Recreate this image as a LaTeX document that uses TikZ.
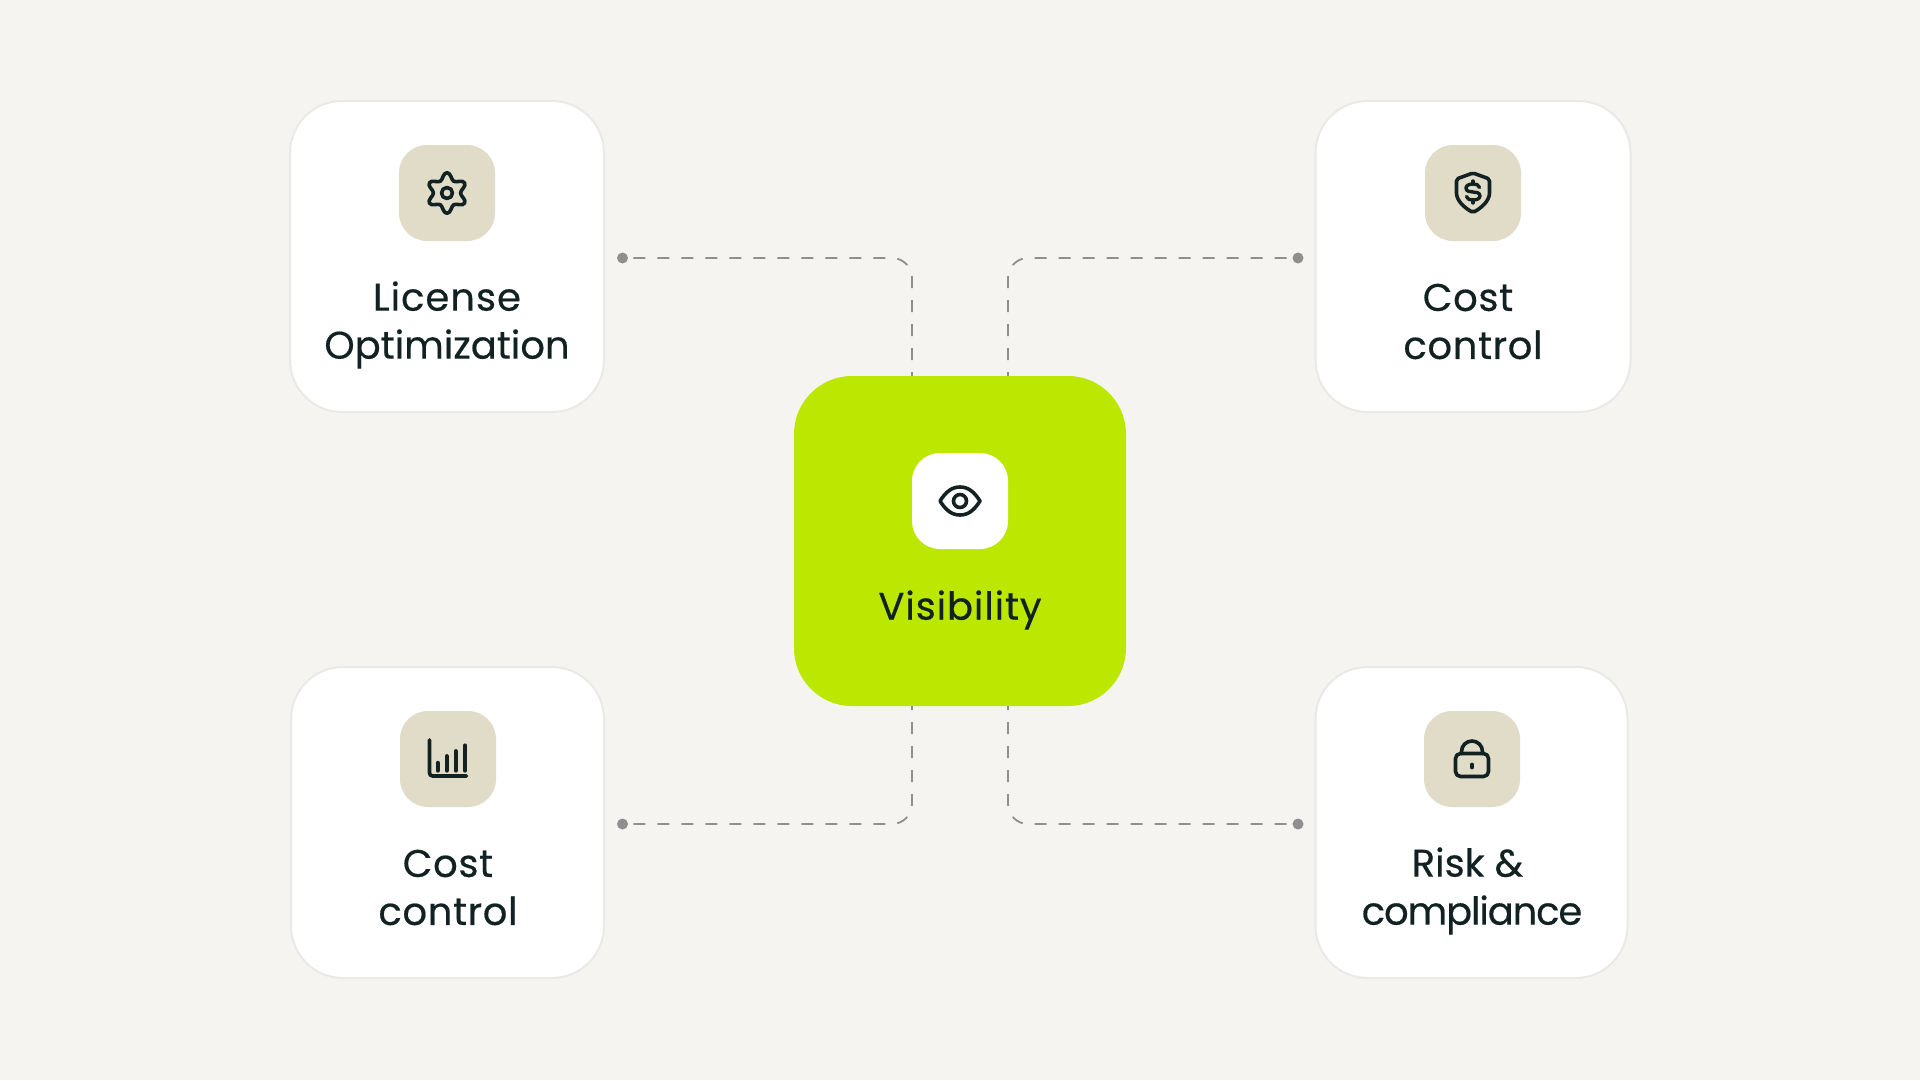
\documentclass[tikz,border=0pt]{standalone}
\usepackage{fontspec}
\setmainfont[FakeBold=0.4]{Poppins}
\definecolor{bgc}{HTML}{F5F4F0}
\definecolor{edgec}{HTML}{E9E9E6}
\definecolor{chipc}{HTML}{E0DCC8}
\definecolor{limec}{HTML}{BBE700}
\definecolor{inkc}{HTML}{122222}
\definecolor{linkc}{HTML}{8F8F8F}
\newcommand{\spaced}[2]{{\addfontfeature{LetterSpace=#1}#2}}
\tikzset{
  card/.style={draw=edgec,line width=2pt,fill=white,rounded corners=52pt,minimum width=314pt,minimum height=311pt,inner sep=0pt,outer sep=0pt},
  hub/.style={fill=limec,rounded corners=58pt,minimum width=332pt,minimum height=330pt,inner sep=0pt,outer sep=0pt},
  chip/.style={fill=chipc,rounded corners=28pt,minimum width=96pt,minimum height=96pt,inner sep=0pt,outer sep=0pt},
  hubchip/.style={chip,fill=white},
  lab/.style={text=inkc,font=\fontsize{38.5}{48}\selectfont,align=center,inner sep=0pt,outer sep=0pt},
  terminal/.style={circle,fill=linkc,minimum size=11pt,inner sep=0pt,outer sep=0pt},
  link/.style={draw=linkc,line width=1.8pt,rounded corners=20pt,dash pattern=on 12pt off 12pt,dash phase=8pt},
  ico/.style={draw=inkc,line width=3.6pt,line cap=round,line join=round},
  bar/.style={draw=inkc,line width=3.8pt,line cap=round}
}
\begin{document}
\begin{tikzpicture}[x=1pt,y=-1pt]
\useasboundingbox (0,0) rectangle (1920,1080);
\fill[bgc] (0,0) rectangle (1920,1080);

\node[card] (cardTL) at (447,256.5) {};
\node[card,minimum width=315pt] (cardTR) at (1473,256.5) {};
\node[card,minimum width=313pt] (cardBL) at (447.5,822.5) {};
\node[card,minimum width=312pt] (cardBR) at (1471.5,822.5) {};

\node[terminal] (dotTL) at (622.5,258) {};
\node[terminal] (dotTR) at (1298,258) {};
\node[terminal] (dotBL) at (622.5,824) {};
\node[terminal] (dotBR) at (1298,824) {};

\node[hub] (hub) at (960,541) {};

\node[chip] (chipTL) at (447,193) {};
\node[chip] (chipTR) at (1473,193) {};
\node[chip] (chipBL) at (448,759) {};
\node[chip] (chipBR) at (1472,759) {};
\node[hubchip] (chipC) at (960,501) {};

\coordinate (hubTL) at (hub.north -| chipC.west);
\coordinate (hubTR) at (hub.north -| chipC.east);
\coordinate (hubBL) at (hub.south -| chipC.west);
\coordinate (hubBR) at (hub.south -| chipC.east);

\draw[link] (hubTL) |- (dotTL.center);
\draw[link] (hubTR) |- (dotTR.center);
\draw[link] (hubBL) |- (dotBL.center);
\draw[link] (hubBR) |- (dotBR.center);

\node[lab] (labTL) at (447,325) {\spaced{2.6}{License}\\Optimization};
\node[lab] (labTR) at (1473,321.5) {\spaced{1.7}{Cost}\hspace*{10pt}\\\spaced{1.7}{control}};
\node[lab] (labBL) at (448,887.5) {\spaced{1.7}{Cost}\\\spaced{1.7}{control}};
\node[lab] (labBR) at (1472,891) {Risk \&\hspace*{9pt}\\\spaced{-2.9}{compliance}};
\node[lab] (labC) at (960,610) {\spaced{2.3}{Visibility}};

% gear
\begin{scope}[shift={(chipTL.center)}]
  \draw[ico] (60:13.5) \foreach \a in {30,-30,-90,-150,-210,-270} {
     .. controls ({\a+17.5}:13.8) and ({\a+11}:20.7) .. (\a:20.3)
     .. controls ({\a-11}:20.7) and ({\a-17.5}:13.8) .. ({\a-30}:13.5) } -- cycle;
  \draw[ico] (0,0) circle (5.5);
\end{scope}

% shield with dollar
\begin{scope}[shift={(chipTR.center)}]
  \draw[ico,rounded corners=2pt] (0,-20) -- (16.5,-14) -- (16.5,-2) .. controls (16.5,8) and (8,15) .. (0,19.5)
     .. controls (-8,15) and (-16.5,8) .. (-16.5,-2) -- (-16.5,-14) -- cycle;
  \draw[ico,line width=3.4pt] (6.5,-5.5) .. controls (6,-8.5) and (3,-9) .. (0,-9) .. controls (-4,-9) and (-7,-7.5) .. (-7,-5)
     .. controls (-7,-1.5) and (-3,-1) .. (0,-1) .. controls (3,-1) and (7,-0.5) .. (7,3)
     .. controls (7,5.5) and (4,7) .. (0,7) .. controls (-3,7) and (-6,6.5) .. (-6.5,3.5);
  \draw[ico,line width=3.4pt] (0,-9) -- (0,-12) (0,7) -- (0,10);
\end{scope}

% bar chart
\begin{scope}[shift={(chipBL.center)}]
  \draw[ico,rounded corners=3pt] (-18.5,-19) -- (-18.5,17) -- (18.5,17);
  \draw[bar] (-10.3,3.7) -- (-10.3,11.7);
  \draw[bar] (-1.3,-3) -- (-1.3,11.7);
  \draw[bar] (7.7,-8) -- (7.7,11.7);
  \draw[bar] (17,-13.7) -- (17,11.7);
\end{scope}

% lock
\begin{scope}[shift={(chipBR.center)}]
  \draw[ico,rounded corners=5pt] (-16.5,-5.5) rectangle (16.5,17.5);
  \draw[ico] (-10.5,-5.5) -- (-10.5,-7.5) arc[start angle=180,end angle=360,radius=10.5] -- (10.5,-5.5);
  \draw[bar] (0,5.5) -- (0,8.5);
\end{scope}

% eye
\begin{scope}[shift={(chipC.center)}]
  \draw[ico] (-20,0) .. controls (-14,-9.5) and (-8,-14) .. (0,-14) .. controls (8,-14) and (14,-9.5) .. (20,0)
     .. controls (14,9.5) and (8,14) .. (0,14) .. controls (-8,14) and (-14,9.5) .. (-20,0) -- cycle;
  \draw[ico] (0,0) circle (6.5);
\end{scope}
\end{tikzpicture}
\end{document}
